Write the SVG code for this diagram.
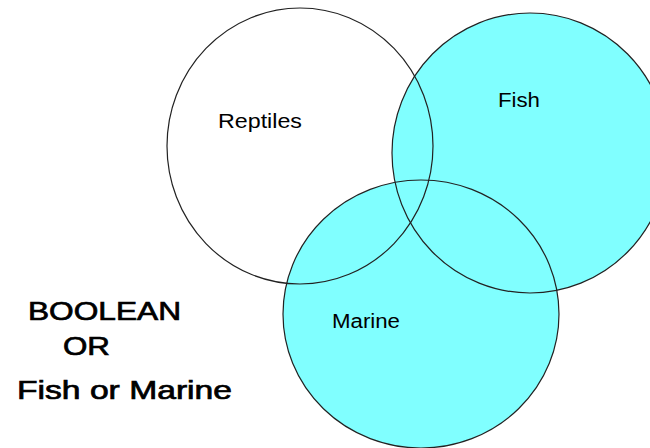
<svg xmlns="http://www.w3.org/2000/svg" width="650" height="448" viewBox="0 0 650 448">
<style>
.fill{fill:#80ffff;stroke:none}
.ring{fill:none;stroke:#222;stroke-width:1.2}
.lbl{font-family:"Liberation Sans",Arial,sans-serif;font-size:20px;fill:#000}
.big{font-family:"Liberation Sans",Arial,sans-serif;font-size:25px;fill:#000;stroke:#000;stroke-width:0.7}
</style>
<rect width="650" height="448" fill="#fff"/>
<g id="fills">
<ellipse class="fill" cx="530" cy="153" rx="138" ry="140"/>
<ellipse class="fill" cx="421" cy="314" rx="138" ry="134"/>
</g>
<g id="reptiles">
<ellipse class="ring" cx="300" cy="146" rx="133" ry="138"/>
<text class="lbl" x="218" y="128" textLength="84" lengthAdjust="spacingAndGlyphs">Reptiles</text>
</g>
<g id="fish">
<ellipse class="ring" cx="530" cy="153" rx="138" ry="140"/>
<text class="lbl" x="498" y="107" textLength="42" lengthAdjust="spacingAndGlyphs">Fish</text>
</g>
<g id="marine">
<ellipse class="ring" cx="421" cy="314" rx="138" ry="134"/>
<text class="lbl" x="332" y="328" textLength="68" lengthAdjust="spacingAndGlyphs">Marine</text>
</g>
<g id="caption">
<text class="big" x="28" y="320" textLength="153" lengthAdjust="spacingAndGlyphs">BOOLEAN</text>
<text class="big" x="63" y="355" textLength="47" lengthAdjust="spacingAndGlyphs">OR</text>
<text class="big" x="17" y="399" textLength="215" lengthAdjust="spacingAndGlyphs">Fish or Marine</text>
</g>
</svg>
